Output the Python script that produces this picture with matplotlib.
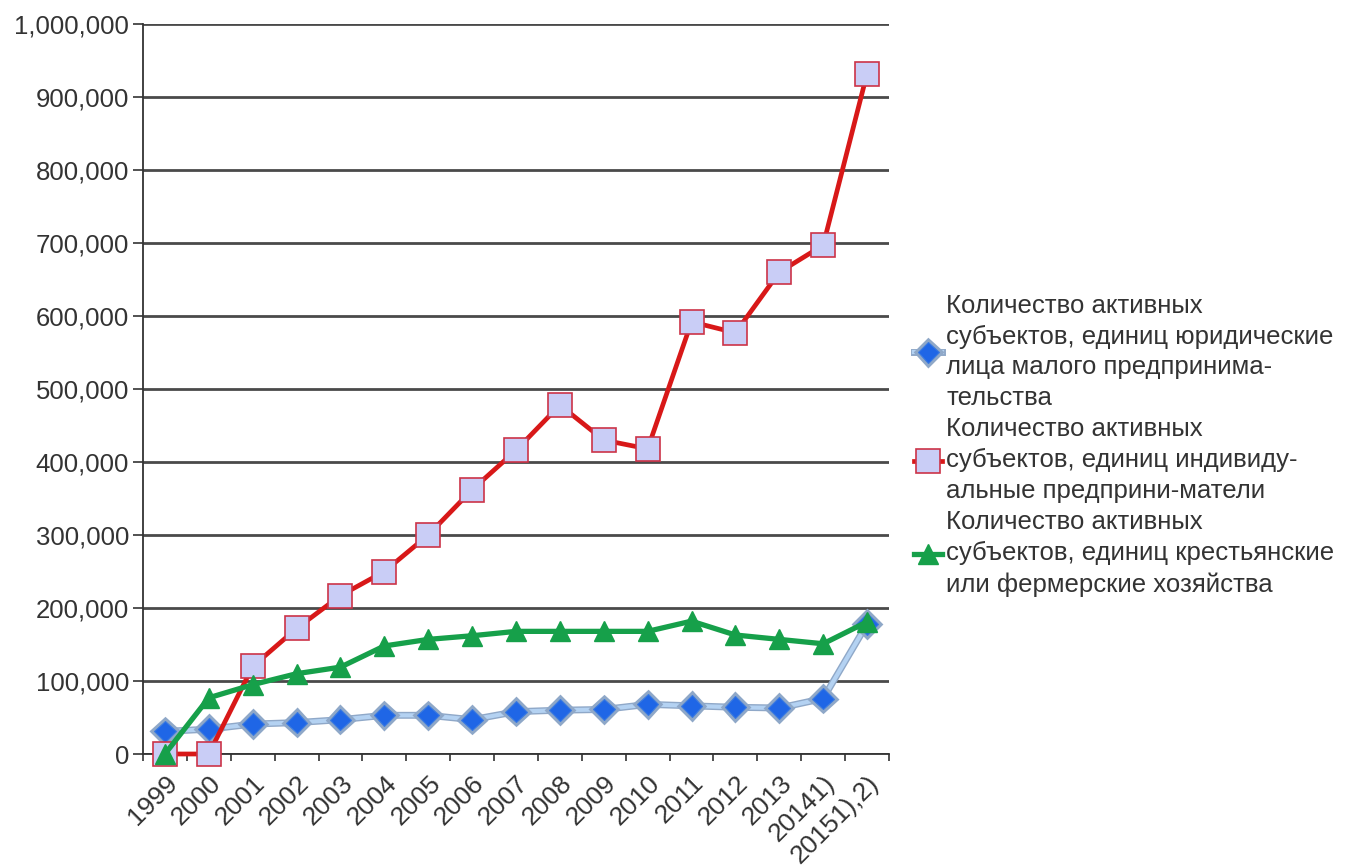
import numpy as np
import matplotlib
matplotlib.use("Agg")
import matplotlib.pyplot as plt
import matplotlib.patheffects as pe
from matplotlib.ticker import FuncFormatter

plt.rcParams['font.family'] = ['Liberation Sans', 'DejaVu Sans']

# --- данные ---
years = ["1999", "2000", "2001", "2002", "2003", "2004", "2005", "2006", "2007",
         "2008", "2009", "2010", "2011", "2012", "2013", "20141)", "20151),2)"]

legal = [31000, 34000, 41000, 43000, 47000, 53000, 53000, 47000, 58000,
         60000, 61000, 68000, 66000, 64000, 63000, 76000, 178000]
individual = [0, 0, 120000, 172000, 217000, 250000, 300000, 362000, 416000,
              478000, 430000, 418000, 592000, 577000, 660000, 697000, 932000]
farms = [0, 77000, 95000, 110000, 119000, 148000, 157000, 162000, 168000,
         168000, 168000, 168000, 182000, 163000, 157000, 151000, 181000]

labels = ["Количество активных\nсубъектов, единиц юридические\nлица малого предпринима-\nтельства",
          "Количество активных\nсубъектов, единиц индивиду-\nальные предприни-матели",
          "Количество активных\nсубъектов, единиц крестьянские\nили фермерские хозяйства"]

# --- рисунок ---
fig = plt.figure(figsize=(13.54, 8.68), dpi=100)
ax = fig.add_axes([143 / 1354, 114 / 868, 746 / 1354, 730 / 868])

x = np.arange(len(years))
ax.plot(x, legal, color='#b4d2f2', lw=3, marker='D', ms=11,
        mfc='#1f66e6', mec='#3a7ae0', mew=0.8, label=labels[0], zorder=3, clip_on=False,
        path_effects=[pe.Stroke(linewidth=5, foreground='#8fa8c8'), pe.Normal()])
ax.plot(x, individual, color='#d81818', lw=3.4, marker='s', ms=17,
        mfc='#c9cdf6', mec='#cc3348', mew=1.2, label=labels[1], zorder=4, clip_on=False)
ax.plot(x, farms, color='#16a04a', lw=3.8, marker='^', ms=15,
        mfc='#16a04a', mec='#16a04a', label=labels[2], zorder=5, clip_on=False)

ax.set_xlim(-0.5, len(years) - 0.5)
ax.set_ylim(0, 1000000)
ax.set_yticks(np.arange(0, 1000001, 100000))
ax.yaxis.set_major_formatter(FuncFormatter(lambda v, p: f"{int(v):,}"))
ax.grid(axis='y', color='#4a4a4a', lw=2)
ax.set_axisbelow(True)

ax.set_xticks(x)
ax.set_xticklabels(years, rotation=45, ha='right', rotation_mode='anchor')
ax.set_xticks(np.arange(-0.5, len(years)), minor=True)
ax.tick_params(axis='x', which='major', length=0, pad=12, labelsize=19, labelcolor='#333333')
ax.tick_params(axis='x', which='minor', length=5, width=1.2, color='#333333')
ax.tick_params(axis='y', length=7, width=1.2, pad=3, labelsize=18.5,
               labelcolor='#333333', color='#333333')

for s in ['top', 'right']:
    ax.spines[s].set_visible(False)
for s in ['left', 'bottom']:
    ax.spines[s].set_color('#333333')
    ax.spines[s].set_linewidth(1.3)

leg = ax.legend(loc='center left', bbox_to_anchor=(1.02, 0.423), frameon=False,
                fontsize=18.5, handlelength=1.1, handletextpad=0.15,
                labelspacing=0.28, borderaxespad=0)
for t in leg.get_texts():
    t.set_color('#333333')
    t.set_linespacing(1.36)

fig.savefig("out.png", dpi=100)
